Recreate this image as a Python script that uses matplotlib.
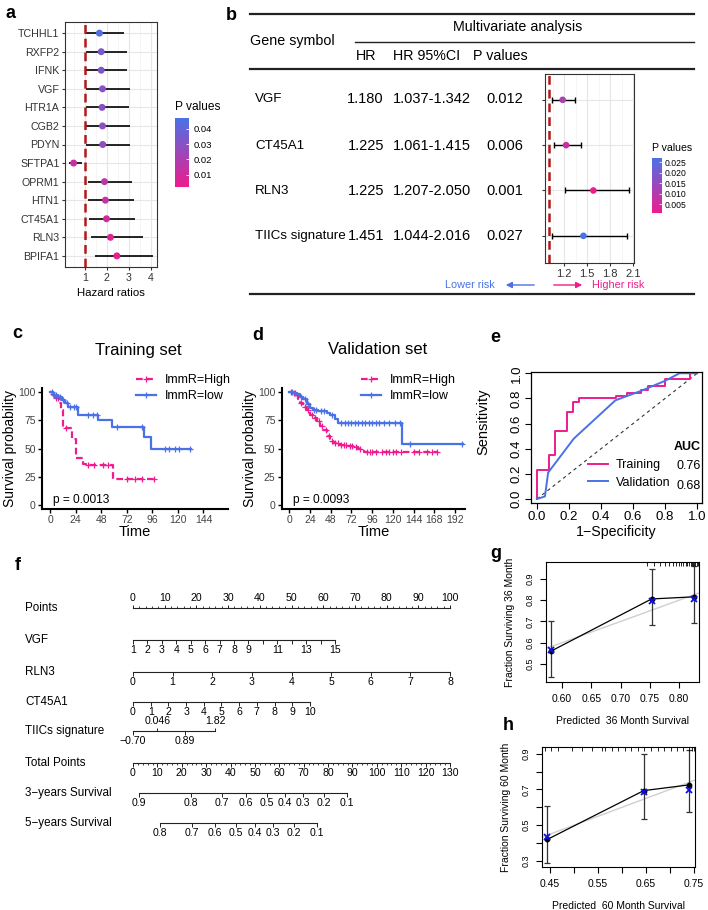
import numpy as np
import matplotlib
matplotlib.use('Agg')
import matplotlib.pyplot as plt
from matplotlib.colors import LinearSegmentedColormap, Normalize
from matplotlib.lines import Line2D
from matplotlib.patches import FancyArrowPatch
import matplotlib.cm as cm

plt.rcParams['font.family'] = ['Liberation Sans', 'DejaVu Sans']

# ---------------- data ----------------
# panel a : univariate forest
genes_a = ['TCHHL1', 'RXFP2', 'IFNK', 'VGF', 'HTR1A', 'CGB2', 'PDYN', 'SFTPA1',
           'OPRM1', 'HTN1', 'CT45A1', 'RLN3', 'BPIFA1']
hr_a = [1.66, 1.74, 1.74, 1.80, 1.78, 1.80, 1.81, 0.49, 1.89, 1.93, 1.98, 2.16, 2.45]
lo_a = [1.01, 1.05, 1.06, 1.06, 1.06, 1.06, 1.06, 0.26, 1.12, 1.15, 1.21, 1.29, 1.44]
hi_a = [2.79, 2.90, 2.90, 3.05, 2.99, 3.04, 3.04, 0.89, 3.14, 3.25, 3.29, 3.62, 4.11]
p_a = [0.045, 0.034, 0.033, 0.031, 0.031, 0.029, 0.028, 0.013, 0.016, 0.014, 0.011, 0.006, 0.004]
cb_a_ticks = [0.01, 0.02, 0.03, 0.04]

# panel b : multivariate table + forest
genes_b = ['VGF', 'CT45A1', 'RLN3', 'TIICs signature']
hr_b_txt = ['1.180', '1.225', '1.225', '1.451']
ci_b_txt = ['1.037-1.342', '1.061-1.415', '1.207-2.050', '1.044-2.016']
p_b = [0.012, 0.006, 0.001, 0.027]
hr_b = [1.18, 1.225, 1.58, 1.451]
lo_b = [1.037, 1.061, 1.207, 1.044]
hi_b = [1.342, 1.415, 2.050, 2.016]
cb_b_ticks = [0.005, 0.010, 0.015, 0.020, 0.025]

# panel c : training KM
tr_hi_t = [0, 3, 5.5, 8, 10, 12, 21, 24, 31, 34, 59]
tr_hi_s = [100, 98, 95, 90, 84, 68, 58, 42, 36, 35, 23]
tr_hi_end = 98
tr_hi_cens = [3, 6, 7, 15, 36, 41, 50, 54, 72, 80, 86, 98]
tr_lo_t = [0, 3, 7, 11, 14, 17, 26, 45, 58, 88, 95]
tr_lo_s = [100, 97.5, 96, 93, 90, 87, 80, 75, 69, 60, 50]
tr_lo_end = 132
tr_lo_cens = [2, 4, 6, 9, 12, 16, 19, 22, 24, 36, 40, 44, 63, 86, 108, 112, 117, 121, 131]
tr_p = 'p = 0.0013'

# panel d : validation KM
va_hi_t = [0, 2.7, 6.6, 10.4, 12.4, 16, 20, 24, 28, 31.7, 35.6, 39.4, 43.3, 47.2, 51,
           58.7, 66.5, 74, 80, 86]
va_hi_s = [100, 99, 97, 94, 90, 87, 84, 80, 77, 74, 70, 66, 61, 57, 54.5, 53.5, 52.5,
           51, 49.5, 47]
va_hi_end = 171
va_hi_cens = [2, 5, 9, 14, 18, 22, 26, 30, 34, 38, 42, 46, 50, 53, 56, 60, 63, 66, 70,
              73, 77, 82, 90, 93, 96, 100, 108, 112, 115, 120, 124, 130, 145, 150, 160,
              165, 171]
va_lo_t = [0, 4.6, 8.5, 12.4, 16.2, 20.1, 24, 27.8, 33.6, 43.3, 47.2, 53, 56.8, 131]
va_lo_s = [100, 99, 98, 96, 94, 89.5, 86, 84, 83, 81, 79.5, 76.5, 72.5, 54]
va_lo_end = 201
va_lo_cens = [3, 7, 14, 18, 22, 29, 31, 37, 40, 50, 60, 64, 68, 72, 76, 80, 84, 88, 92,
              96, 100, 104, 110, 116, 122, 128, 140, 200]
va_p = 'p = 0.0093'
km_labels = ['ImmR=High', 'ImmR=low']

# panel e : ROC
fpr_tr = [0, 0, 0.075, 0.11, 0.19, 0.225, 0.26, 0.495, 0.565, 0.65, 0.69, 0.80, 0.955, 1.0]
tpr_tr = [0, 0.23, 0.35, 0.54, 0.69, 0.77, 0.80, 0.82, 0.84, 0.865, 0.90, 0.955, 1.0, 1.0]
fpr_va = [0, 0.05, 0.07, 0.23, 0.49, 0.65, 0.80, 0.89, 1.0]
tpr_va = [0, 0.02, 0.21, 0.48, 0.785, 0.86, 0.94, 1.0, 1.0]
roc_names = ['Training', 'Validation']
roc_auc = ['0.76', '0.68']

# panel f : nomogram
nomo_points = np.arange(0, 101, 10)
vgf_vals = np.arange(1, 16)
vgf_shown = [1, 2, 3, 4, 5, 6, 7, 8, 9, 11, 13, 15]
vgf_maxpts = 63.7
rln3_vals = np.arange(0, 9)
rln3_maxpts = 100.0
ct_vals = np.arange(0, 11)
ct_maxpts = 55.8
tiic_range = (-0.70, 1.82)
tiic_up = [0.046, 1.82]
tiic_down = [-0.70, 0.89]
tiic_maxpts = 25.9
total_pts = np.arange(0, 131, 10)
surv3_p = [0.9, 0.8, 0.7, 0.6, 0.5, 0.4, 0.3, 0.2, 0.1]
surv3_tot = [2.5, 23.8, 36.5, 46.3, 55.0, 62.3, 69.7, 78.3, 87.8]
surv5_p = [0.8, 0.7, 0.6, 0.5, 0.4, 0.3, 0.2, 0.1]
surv5_tot = [11.1, 24.2, 33.6, 42.2, 50.0, 57.4, 66.0, 75.5]

# panel g / h : calibration
g_pred = [0.581, 0.753, 0.825]
g_obs = [0.56, 0.806, 0.816]
g_corr = [0.567, 0.798, 0.806]
g_lo = [0.44, 0.683, 0.694]
g_hi = [0.70, 0.947, 0.96]
g_rug = [0.745, 0.757, 0.768, 0.776, 0.783, 0.789, 0.794, 0.799, 0.803, 0.807, 0.811,
         0.814, 0.817, 0.820, 0.822, 0.824, 0.826, 0.828, 0.830, 0.832]
h_pred = [0.444, 0.645, 0.739]
h_obs = [0.42, 0.693, 0.725]
h_corr = [0.435, 0.687, 0.697]
h_lo = [0.289, 0.534, 0.572]
h_hi = [0.607, 0.90, 0.918]
h_rug = [0.440, 0.452, 0.466, 0.496, 0.517, 0.537, 0.558, 0.565, 0.578, 0.592, 0.606,
         0.619, 0.633, 0.646, 0.660, 0.674, 0.687, 0.701, 0.715, 0.728, 0.739, 0.745, 0.750]

# ---------------- figure helpers ----------------
W, H = 708, 910
fig = plt.figure(figsize=(W / 100, H / 100), dpi=100)


def rect(l, t, r, b):
    return [l / W, 1 - b / H, (r - l) / W, (b - t) / H]


def fx(x):
    return x / W


def fy(y):
    return 1 - y / H


def ftext(x, y, s, **kw):
    kw.setdefault('va', 'center')
    fig.text(fx(x), fy(y), s, **kw)


def fline(x0, x1, y0, y1, **kw):
    fig.add_artist(Line2D([fx(x0), fx(x1)], [fy(y0), fy(y1)], **kw))


PINK = '#EE1C8C'
BLUE = '#4A72E6'
DRED = '#B01A1A'
GRID = '#E6E6E6'
pcmap = LinearSegmentedColormap.from_list('pv', [PINK, BLUE])

# panel letters
for lab, x, y in [('a', 5, 13), ('b', 226, 16), ('c', 12, 333), ('d', 252, 335),
                  ('e', 490, 338), ('f', 15, 565), ('g', 490, 553), ('h', 503, 725)]:
    ftext(x, y, lab, fontsize=13, fontweight='bold')

# ---------------- panel a ----------------
axa = fig.add_axes(rect(65, 22, 157, 267))
ya = np.arange(len(genes_a), 0, -1)
axa.set_xlim(0.1, 4.27)
axa.set_ylim(0.4, 13.6)
axa.set_xticks([1, 2, 3, 4])
axa.set_xticks([0.5, 1.5, 2.5, 3.5], minor=True)
axa.set_yticks(ya)
axa.set_yticklabels(genes_a)
axa.grid(True, which='major', color=GRID, lw=0.8)
axa.grid(True, which='minor', axis='x', color='#F2F2F2', lw=0.5)
axa.set_axisbelow(True)
axa.hlines(ya, lo_a, hi_a, color='black', lw=1.2, zorder=3)
axa.axvline(1, color=DRED, lw=1.8, ls=(0, (3.5, 2)), zorder=3.5)
norm_a = Normalize(0.002, 0.047)
axa.scatter(hr_a, ya, c=p_a, cmap=pcmap, norm=norm_a, s=16, zorder=5)
axa.tick_params(labelsize=7.7, length=2.5, color='#333333', labelcolor='#333333', pad=1.5)
axa.tick_params(which='minor', length=0)
for sp in axa.spines.values():
    sp.set_color('#333333')
    sp.set_linewidth(0.8)
axa.set_xlabel('Hazard ratios', fontsize=8.2, labelpad=4)

caxa = fig.add_axes(rect(175, 118, 189, 187))
cba = fig.colorbar(cm.ScalarMappable(norm=norm_a, cmap=pcmap), cax=caxa, ticks=cb_a_ticks)
cba.outline.set_visible(False)
cba.ax.set_yticklabels([f'{v:.2f}' for v in cb_a_ticks])
cba.ax.tick_params(labelsize=6.8, length=2.5, color='white', width=0.6, direction='in', pad=3)
ftext(175, 107, 'P values', fontsize=8.6)

# ---------------- panel b ----------------
fline(250, 694, 14, 14, color='#222222', lw=1.6)
fline(355, 694, 42, 42, color='#222222', lw=1.0)
fline(250, 694, 69, 69, color='#222222', lw=1.6)
fline(250, 694, 294, 294, color='#222222', lw=1.6)
ftext(518, 27, 'Multivariate analysis', fontsize=10.3, ha='center')
ftext(250, 41, 'Gene symbol', fontsize=10.3)
ftext(356, 56, 'HR', fontsize=10.3)
ftext(393, 56, 'HR 95%CI', fontsize=10.3)
ftext(473, 56, 'P values', fontsize=10.3)
row_y = [99, 146, 191, 236]
for g, h, ci, p, yy in zip(genes_b, hr_b_txt, ci_b_txt, p_b, row_y):
    ftext(255, yy, g, fontsize=9.6)
    ftext(384, yy, h, fontsize=10.5, ha='right')
    ftext(393, yy, ci, fontsize=10.5)
    ftext(486, yy, f'{p:.3f}', fontsize=10.5)

axb = fig.add_axes(rect(545, 74, 634, 263))
yb = np.arange(len(genes_b), 0, -1)
axb.set_xlim(0.95, 2.11)
axb.set_ylim(0.4, 4.57)
axb.set_xticks([1.2, 1.5, 1.8, 2.1])
axb.set_xticks([1.05, 1.35, 1.65, 1.95], minor=True)
axb.set_yticks(yb)
axb.set_yticklabels([])
axb.grid(True, which='major', color=GRID, lw=0.8)
axb.grid(True, which='minor', axis='x', color='#F2F2F2', lw=0.5)
axb.set_axisbelow(True)
hrb = np.array(hr_b)
axb.errorbar(hrb, yb, xerr=[hrb - np.array(lo_b), np.array(hi_b) - hrb], fmt='none',
             ecolor='black', elinewidth=1, capsize=2, capthick=1, zorder=3)
axb.axvline(1.0, color=DRED, lw=1.8, ls=(0, (3.5, 2)), zorder=3.5)
norm_b = Normalize(0.0007, 0.027)
axb.scatter(hrb, yb, c=p_b, cmap=pcmap, norm=norm_b, s=14, zorder=5)
axb.tick_params(labelsize=8, length=2.5, color='#333333', labelcolor='#333333', pad=1.5)
axb.tick_params(axis='y', length=2)
axb.tick_params(which='minor', length=0)
for sp in axb.spines.values():
    sp.set_color('#333333')
    sp.set_linewidth(0.8)

caxb = fig.add_axes(rect(652, 158, 662, 213))
cbb = fig.colorbar(cm.ScalarMappable(norm=norm_b, cmap=pcmap), cax=caxb, ticks=cb_b_ticks)
cbb.outline.set_visible(False)
cbb.ax.set_yticklabels([f'{v:.3f}' for v in cb_b_ticks])
cbb.ax.tick_params(labelsize=6.2, length=2, color='white', width=0.5, direction='in', pad=2)
ftext(652, 148, 'P values', fontsize=7.6)

fig.add_artist(FancyArrowPatch((fx(537), fy(285)), (fx(503), fy(285)), transform=fig.transFigure,
                               arrowstyle='-|>', mutation_scale=9, color=BLUE, lw=1))
fig.add_artist(FancyArrowPatch((fx(551), fy(285)), (fx(585), fy(285)), transform=fig.transFigure,
                               arrowstyle='-|>', mutation_scale=9, color=PINK, lw=1))
ftext(495, 285, 'Lower risk', fontsize=7.8, color=BLUE, ha='right')
ftext(592, 285, 'Higher risk', fontsize=7.8, color=PINK)


# ---------------- panels c, d ----------------
def step_at(times, surv, t):
    idx = np.searchsorted(np.asarray(times), np.asarray(t), side='right') - 1
    return np.asarray(surv)[idx]


def km_panel(ax, hi_t, hi_s, hi_end, hi_c, lo_t, lo_s, lo_end, lo_c, xmax_tick, xlim, title,
             ptxt, title_x, leg_x, p_x):
    dash = (0, (3, 1.6))
    ax.step(np.r_[hi_t, hi_end], np.r_[hi_s, hi_s[-1]], where='post', color=PINK, lw=1.6, ls=dash)
    ax.plot(hi_c, step_at(hi_t, hi_s, hi_c), '+', color=PINK, ms=4, mew=0.9)
    ax.step(np.r_[lo_t, lo_end], np.r_[lo_s, lo_s[-1]], where='post', color=BLUE, lw=1.6)
    ax.plot(lo_c, step_at(lo_t, lo_s, lo_c), '+', color=BLUE, ms=4, mew=0.9)
    ax.set_xlim(*xlim)
    ax.set_ylim(-3.5, 104)
    ax.set_xticks(np.arange(0, xmax_tick + 1, 24))
    ax.set_yticks([0, 25, 50, 75, 100])
    for s in ['top', 'right']:
        ax.spines[s].set_visible(False)
    for s in ['left', 'bottom']:
        ax.spines[s].set_linewidth(1.5)
    ax.tick_params(labelsize=7.5, length=3, width=1, labelcolor='#444444', pad=1.5)
    ax.set_xlabel('Time', fontsize=10.5, labelpad=-0.5)
    ax.set_ylabel('Survival probability', fontsize=10, labelpad=1)
    ftext(title_x, 350, title, fontsize=12, ha='center')
    handles = [Line2D([], [], color=PINK, lw=1.6, ls=dash, marker='+', ms=4, mew=0.9),
               Line2D([], [], color=BLUE, lw=1.6, marker='+', ms=4, mew=0.9)]
    ax.legend(handles, km_labels, loc='upper left', bbox_to_anchor=(fx(leg_x), fy(374)),
              bbox_transform=fig.transFigure, frameon=False, fontsize=9, handlelength=1.6,
              handletextpad=0.7, labelspacing=0.35, borderpad=0, borderaxespad=0)
    ftext(p_x, 500, ptxt, fontsize=8.6)


axc = fig.add_axes(rect(42, 387.5, 228, 509))
km_panel(axc, tr_hi_t, tr_hi_s, tr_hi_end, tr_hi_cens, tr_lo_t, tr_lo_s, tr_lo_end, tr_lo_cens,
         144, (-7.6, 167), 'Training set', tr_p, 138, 136, 53)
axd = fig.add_axes(rect(281.7, 387.5, 465, 509))
km_panel(axd, va_hi_t, va_hi_s, va_hi_end, va_hi_cens, va_lo_t, va_lo_s, va_lo_end, va_lo_cens,
         192, (-8.8, 203.6), 'Validation set', va_p, 378, 361, 293)

# ---------------- panel e ----------------
axe = fig.add_axes(rect(531, 372, 702, 503))
axe.plot([0, 1], [0, 1], color='#333333', lw=0.8, ls=(0, (3, 3)))
axe.step(fpr_tr, tpr_tr, where='post', color=PINK, lw=1.4)
axe.plot(fpr_va, tpr_va, color=BLUE, lw=1.4)
axe.set_xlim(-0.037, 1.03)
axe.set_ylim(-0.032, 1.01)
ticks_e = np.round(np.arange(0, 1.01, 0.2), 1)
axe.set_xticks(ticks_e)
axe.set_xticklabels([f'{v:.1f}' for v in ticks_e])
axe.set_yticks(ticks_e)
axe.set_yticklabels([f'{v:.1f}' for v in ticks_e], rotation=90, va='center')
axe.tick_params(labelsize=9.5, length=4, width=0.8, pad=2)
for sp in axe.spines.values():
    sp.set_linewidth(0.9)
axe.set_xlabel('1\u2212Specificity', fontsize=10.2, labelpad=1)
axe.set_ylabel('Sensitivity', fontsize=10.5, labelpad=3)
axe.yaxis.set_label_coords(-0.24, 0.62)
ftext(701, 447, 'AUC', fontsize=9, fontweight='bold', ha='right')
h_e = [Line2D([], [], color=PINK, lw=1.4), Line2D([], [], color=BLUE, lw=1.4)]
axe.legend(h_e, roc_names, loc='upper left', bbox_to_anchor=(fx(588), fy(459)),
           bbox_transform=fig.transFigure, frameon=False, fontsize=9, handlelength=1.6,
           handletextpad=0.6, labelspacing=0.45, borderpad=0, borderaxespad=0)
for v, yy in zip(roc_auc, [466, 486]):
    ftext(701, yy, v, fontsize=9, ha='right')

# ---------------- panel f : nomogram ----------------
axf = fig.add_axes(rect(133, 585, 450, 845))
axf.set_xlim(0, 100)
axf.set_ylim(845, 585)
axf.axis('off')
NC = '#222222'


def nomo_axis(y, label, pos, labels, up, minor=None, lab_pos=None, major_len=3.5):
    pos = np.asarray(pos, float)
    axf.plot([pos.min(), pos.max()], [y, y], color=NC, lw=0.8, clip_on=False)
    sgn = -1 if up else 1
    axf.vlines(pos, y, y + sgn * major_len, color=NC, lw=0.7, clip_on=False)
    if minor is not None:
        axf.vlines(minor, y, y + sgn * 2, color=NC, lw=0.6, clip_on=False)
    lp = pos if lab_pos is None else np.asarray(lab_pos, float)
    for p_, t_ in zip(lp, labels):
        axf.text(p_, y + sgn * 10, t_, fontsize=7.6, ha='center', va='center', clip_on=False)
    if label:
        axf.text(-34, y, label, fontsize=8.4, ha='left', va='center', clip_on=False)


nomo_axis(608, 'Points', nomo_points, [str(v) for v in nomo_points], up=True,
          minor=np.arange(0, 101, 2))
vgf_pos = (vgf_vals - vgf_vals[0]) / (vgf_vals[-1] - vgf_vals[0]) * vgf_maxpts
vgf_lpos = (np.array(vgf_shown) - vgf_vals[0]) / (vgf_vals[-1] - vgf_vals[0]) * vgf_maxpts
nomo_axis(640, 'VGF', vgf_pos, [str(v) for v in vgf_shown], up=False, lab_pos=vgf_lpos)
rln_pos = rln3_vals / rln3_vals[-1] * rln3_maxpts
nomo_axis(672, 'RLN3', rln_pos, [str(v) for v in rln3_vals], up=False)
ct_pos = ct_vals / ct_vals[-1] * ct_maxpts
nomo_axis(702, 'CT45A1', ct_pos, [str(v) for v in ct_vals], up=False)


def tiic_pts(v):
    return (np.asarray(v) - tiic_range[0]) / (tiic_range[1] - tiic_range[0]) * tiic_maxpts


ty = 731
axf.plot([tiic_pts(tiic_range[0]), tiic_pts(tiic_range[1])], [ty, ty], color=NC, lw=0.8, clip_on=False)
axf.vlines(tiic_pts(tiic_up), ty, ty - 3.5, color=NC, lw=0.7, clip_on=False)
axf.vlines(tiic_pts(tiic_down), ty, ty + 3.5, color=NC, lw=0.7, clip_on=False)
for v in tiic_up:
    axf.text(tiic_pts(v), ty - 10, f'{v:g}', fontsize=7.6, ha='center', va='center')
for v in tiic_down:
    axf.text(tiic_pts(v), ty + 10, f'{v:.2f}'.replace('-', '\u2212'), fontsize=7.6, ha='center', va='center')
axf.text(-34, ty, 'TIICs signature', fontsize=8.4, ha='left', va='center')

tp = total_pts / total_pts[-1] * 100
nomo_axis(763, 'Total Points', tp, [str(v) for v in total_pts], up=False,
          minor=np.arange(0, 131, 2) / total_pts[-1] * 100)
nomo_axis(793, '3\u2212years Survival', np.array(surv3_tot) / total_pts[-1] * 100,
          [f'{v:.1f}' for v in surv3_p], up=False)
nomo_axis(823, '5\u2212years Survival', np.array(surv5_tot) / total_pts[-1] * 100,
          [f'{v:.1f}' for v in surv5_p], up=False)


# ---------------- panels g, h ----------------
def calib(ax, pred, obs, corr, lo, hi, rug, xlim, ylim, xticks, xlabs, yticks, ylabs, xlabel,
          ylabel):
    pred, obs, lo, hi = map(np.asarray, (pred, obs, lo, hi))
    ax.plot([0, 1], [0, 1], color='#CFCFCF', lw=1)
    ax.errorbar(pred, obs, yerr=[obs - lo, hi - obs], fmt='none', ecolor='#333333',
                elinewidth=0.9, capsize=2, capthick=0.9)
    ax.plot(pred, obs, '-o', color='black', ms=3.2, lw=0.9)
    ax.plot(pred, corr, 'x', color='#1010E0', ms=4, mew=1.3)
    rl = (ylim[1] - ylim[0]) / 120 * 4
    ax.vlines(rug, ylim[1] - rl, ylim[1], color='black', lw=0.6)
    ax.set_xlim(*xlim)
    ax.set_ylim(*ylim)
    ax.set_xticks(xticks)
    ax.set_xticklabels(xlabs)
    ax.set_yticks(yticks)
    ax.set_yticklabels(ylabs, rotation=90, va='center')
    ax.tick_params(axis='x', labelsize=7.5, length=4, width=0.8, pad=4.5)
    ax.tick_params(axis='y', labelsize=6.5, length=4, width=0.8, pad=4)
    for sp in ax.spines.values():
        sp.set_linewidth(0.8)
    ax.set_xlabel(xlabel, fontsize=7.5, labelpad=9)
    ax.set_ylabel(ylabel, fontsize=7.5, labelpad=8)


axg = fig.add_axes(rect(546, 562, 699, 682))
gx = [0.60, 0.65, 0.70, 0.75, 0.80]
gy = [0.5, 0.6, 0.7, 0.8, 0.9]
calib(axg, g_pred, g_obs, g_corr, g_lo, g_hi, g_rug, (0.5726, 0.834), (0.415, 0.98), gx,
      [f'{v:.2f}' for v in gx], gy, [f'{v:.1f}' for v in gy],
      'Predicted  36 Month Survival', 'Fraction Surviving 36 Month')

axh = fig.add_axes(rect(542, 747, 695, 867))
hx = [0.45, 0.50, 0.55, 0.60, 0.65, 0.70, 0.75]
hy = [0.3, 0.4, 0.5, 0.6, 0.7, 0.8, 0.9]
calib(axh, h_pred, h_obs, h_corr, h_lo, h_hi, h_rug, (0.433, 0.752), (0.266, 0.937), hx,
      [f'{v:.2f}' if i % 2 == 0 else '' for i, v in enumerate(hx)], hy,
      [f'{v:.1f}' if i % 2 == 0 else '' for i, v in enumerate(hy)],
      'Predicted  60 Month Survival', 'Fraction Surviving 60 Month')

fig.savefig('out.png', dpi=100)
